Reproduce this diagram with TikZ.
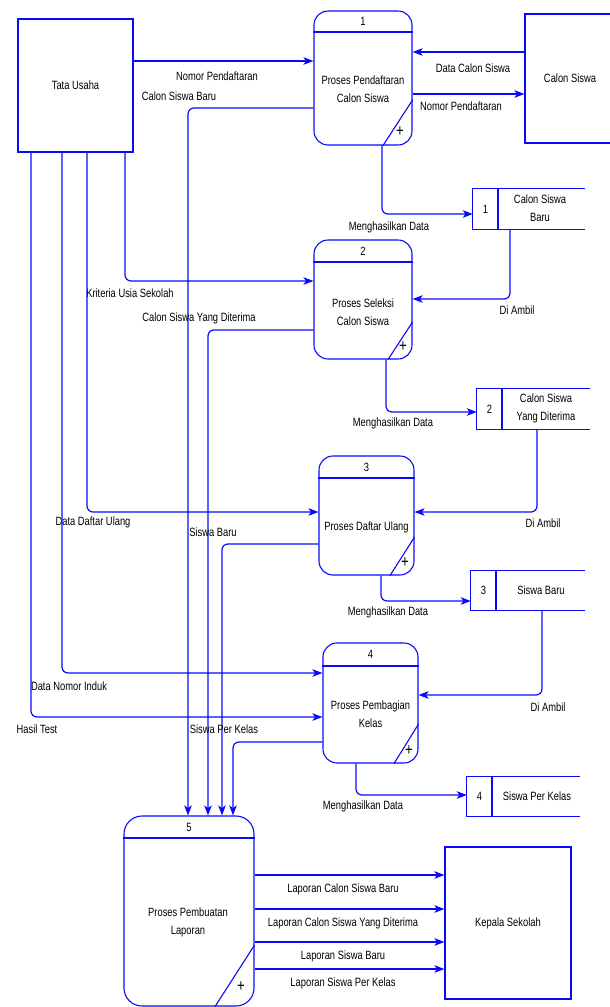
\documentclass[tikz,border=0pt]{standalone}
\usepackage{fontspec}
\setmainfont[FakeStretch=0.78]{Liberation Sans}
\usetikzlibrary{arrows.meta}
\definecolor{dfdblue}{RGB}{10,10,250}

\tikzset{
  dfd/.style={draw=dfdblue, line width=1.1pt},
  txt/.style={font=\fontsize{12}{18}\selectfont, inner sep=0pt, align=center},
  plus/.style={font=\fontsize{17}{17}\selectfont, inner sep=0pt},
  entity/.style={dfd, rectangle, txt},
  process/.style={dfd, rectangle, rounded corners=14pt, inner sep=0pt},
  store/.style={rectangle, inner sep=0pt},
  flow/.style={draw=dfdblue, line width=1.2pt, rounded corners=6pt,
    -{Stealth[length=10pt,width=7.5pt,inset=2.5pt]}}
}

\begin{document}
\begin{tikzpicture}[x=1pt,y=-1pt]
		\useasboundingbox (0,0) rectangle (610,1007);

		% External entities
		\node[entity, minimum width=115pt, minimum height=133pt] (tu) at (75.5,85.5) {Tata Usaha};
		\node[entity, minimum width=90pt, minimum height=129pt] (cs) at (570,78.5) {Calon Siswa};
		\node[entity, minimum width=126pt, minimum height=152pt] (ks) at (508,923) {Kepala Sekolah};

		% Process 1
		\node[process, minimum width=98pt, minimum height=134pt] (p1) at (363,78) {};
		\draw[dfd] (p1.west |- 0,32) -- (p1.east |- 0,32);
		\draw[dfd] (p1.east |- 0,100) -- (p1.south -| 383,0);
		\node[txt] (p1n) at (363,21) {1};
		\node[txt] (p1t) at (363,89.5) {Proses Pendaftaran\\Calon Siswa};
		\node[plus] (p1p) at (400,132) {+};

		% Process 2
		\node[process, minimum width=98pt, minimum height=119pt] (p2) at (363,299.5) {};
		\draw[dfd] (p2.west |- 0,262) -- (p2.east |- 0,262);
		\draw[dfd] (p2.east |- 0,322) -- (p2.south -| 388,0);
		\node[txt] (p2n) at (363,251) {2};
		\node[txt] (p2t) at (363,312) {Proses Seleksi\\Calon Siswa};
		\node[plus] (p2p) at (403,347) {+};

		% Process 3
		\node[process, minimum width=95pt, minimum height=119pt] (p3) at (366.5,515.5) {};
		\draw[dfd] (p3.west |- 0,478) -- (p3.east |- 0,478);
		\draw[dfd] (p3.east |- 0,537) -- (p3.south -| 390,0);
		\node[txt] (p3n) at (366.5,467) {3};
		\node[txt] (p3t) at (366.5,527) {Proses Daftar Ulang};
		\node[plus] (p3p) at (405,563) {+};

		% Process 4
		\node[process, minimum width=95pt, minimum height=120pt] (p4) at (370.5,703) {};
		\draw[dfd] (p4.west |- 0,666) -- (p4.east |- 0,666);
		\draw[dfd] (p4.east |- 0,724) -- (p4.south -| 394,0);
		\node[txt] (p4n) at (370.5,654) {4};
		\node[txt] (p4t) at (370.5,714.5) {Proses Pembagian\\Kelas};
		\node[plus] (p4p) at (409,751) {+};

		% Process 5
		\node[process, rounded corners=18pt, minimum width=130pt, minimum height=190pt] (p5) at (189,911) {};
		\draw[dfd] (p5.west |- 0,838) -- (p5.east |- 0,838);
		\draw[dfd] (p5.east |- 0,945) -- (p5.south -| 215,0);
		\node[txt] (p5n) at (189,827) {5};
		\node[txt] (p5t) at (188,922) {Proses Pembuatan\\Laporan};
		\node[plus] (p5p) at (241,987) {+};

		% Data stores (open on the right)
		\node[store, minimum width=112pt, minimum height=40pt] (ds1) at (529,209) {};
		\draw[dfd] (ds1.north east) -- (ds1.north west) -- (ds1.south west) -- (ds1.south east);
		\draw[dfd] (ds1.north -| 498,0) -- (ds1.south -| 498,0);
		\node[txt] (ds1n) at (485.5,209) {1};
		\node[txt] (ds1t) at (540,208) {Calon Siswa\\Baru};

		\node[store, minimum width=113pt, minimum height=40pt] (ds2) at (533.5,409) {};
		\draw[dfd] (ds2.north east) -- (ds2.north west) -- (ds2.south west) -- (ds2.south east);
		\draw[dfd] (ds2.north -| 502,0) -- (ds2.south -| 502,0);
		\node[txt] (ds2n) at (489.5,409) {2};
		\node[txt] (ds2t) at (546,408) {Calon Siswa\\Yang Diterima};

		\node[store, minimum width=114pt, minimum height=39pt] (ds3) at (528,590.5) {};
		\draw[dfd] (ds3.north east) -- (ds3.north west) -- (ds3.south west) -- (ds3.south east);
		\draw[dfd] (ds3.north -| 496,0) -- (ds3.south -| 496,0);
		\node[txt] (ds3n) at (483.5,590.5) {3};
		\node[txt] (ds3t) at (541,590.5) {Siswa Baru};

		\node[store, minimum width=113pt, minimum height=39pt] (ds4) at (523.5,796.5) {};
		\draw[dfd] (ds4.north east) -- (ds4.north west) -- (ds4.south west) -- (ds4.south east);
		\draw[dfd] (ds4.north -| 492,0) -- (ds4.south -| 492,0);
		\node[txt] (ds4n) at (479.5,796.5) {4};
		\node[txt] (ds4t) at (537,796.5) {Siswa Per Kelas};

		% Flows around process 1
		\draw[flow] (tu.east |- 0,61) -- (p1.west |- 0,61);
		\node[txt] (f1) at (217,76) {Nomor Pendaftaran};
		\draw[flow] (cs.west |- 0,52) -- (p1.east |- 0,52);
		\node[txt] (f2) at (473,68) {Data Calon Siswa};
		\draw[flow] (p1.east |- 0,94) -- (cs.west |- 0,94);
		\node[txt] (f3) at (461,106) {Nomor Pendaftaran};
		\draw[flow] (p1.west |- 0,108) -| (p5.north -| 188,0);
		\node[txt] (f4) at (179,96) {Calon Siswa Baru};
		\draw[flow] (p1.south -| 382,0) |- (ds1.west |- 0,214);
		\node[txt] (f5) at (389,227) {Menghasilkan Data};

		% Flows around process 2
		\draw[flow] (ds1.south -| 510,0) |- (p2.east |- 0,299);
		\node[txt] (f6) at (517,310) {Di Ambil};
		\draw[flow] (tu.south -| 125,0) |- (p2.west |- 0,281);
		\node[txt] (f7) at (130,293) {Kriteria Usia Sekolah};
		\draw[flow] (p2.west |- 0,330) -| (p5.north -| 208,0);
		\node[txt] (f8) at (199,318) {Calon Siswa Yang Diterima};
		\draw[flow] (p2.south -| 386,0) |- (ds2.west |- 0,412);
		\node[txt] (f9) at (393,423) {Menghasilkan Data};

		% Flows around process 3
		\draw[flow] (ds2.south -| 537,0) |- (p3.east |- 0,512);
		\node[txt] (f10) at (543,523) {Di Ambil};
		\draw[flow] (tu.south -| 87,0) |- (p3.west |- 0,512);
		\node[txt] (f11) at (93,522) {Data Daftar Ulang};
		\draw[flow] (p3.west |- 0,544) -| (p5.north -| 222,0);
		\node[txt] (f12) at (213,532) {Siswa Baru};
		\draw[flow] (p3.south -| 381,0) |- (ds3.west |- 0,601);
		\node[txt] (f13) at (388,612) {Menghasilkan Data};

		% Flows around process 4
		\draw[flow] (ds3.south -| 542,0) |- (p4.east |- 0,695);
		\node[txt] (f14) at (548,707) {Di Ambil};
		\draw[flow] (tu.south -| 62,0) |- (p4.west |- 0,673);
		\node[txt] (f15) at (69,686) {Data Nomor Induk};
		\draw[flow] (tu.south -| 31,0) |- (p4.west |- 0,717);
		\node[txt] (f16) at (37,729) {Hasil Test};
		\draw[flow] (p4.west |- 0,742) -| (p5.north -| 233,0);
		\node[txt] (f17) at (224,729) {Siswa Per Kelas};
		\draw[flow] (p4.south -| 356,0) |- (ds4.west |- 0,795);
		\node[txt] (f18) at (363,806) {Menghasilkan Data};

		% Reports to the head of school
		\foreach \y/\txt [count=\i] in {875/Laporan Calon Siswa Baru, 909/Laporan Calon Siswa Yang Diterima,
				942/Laporan Siswa Baru, 969/Laporan Siswa Per Kelas} {
				\draw[flow] (p5.east |- 0,\y) -- (ks.west |- 0,\y);
				\node[txt] (lap\i) at (343,\y+14) {\txt};
			}
	\end{tikzpicture}
\end{document}
